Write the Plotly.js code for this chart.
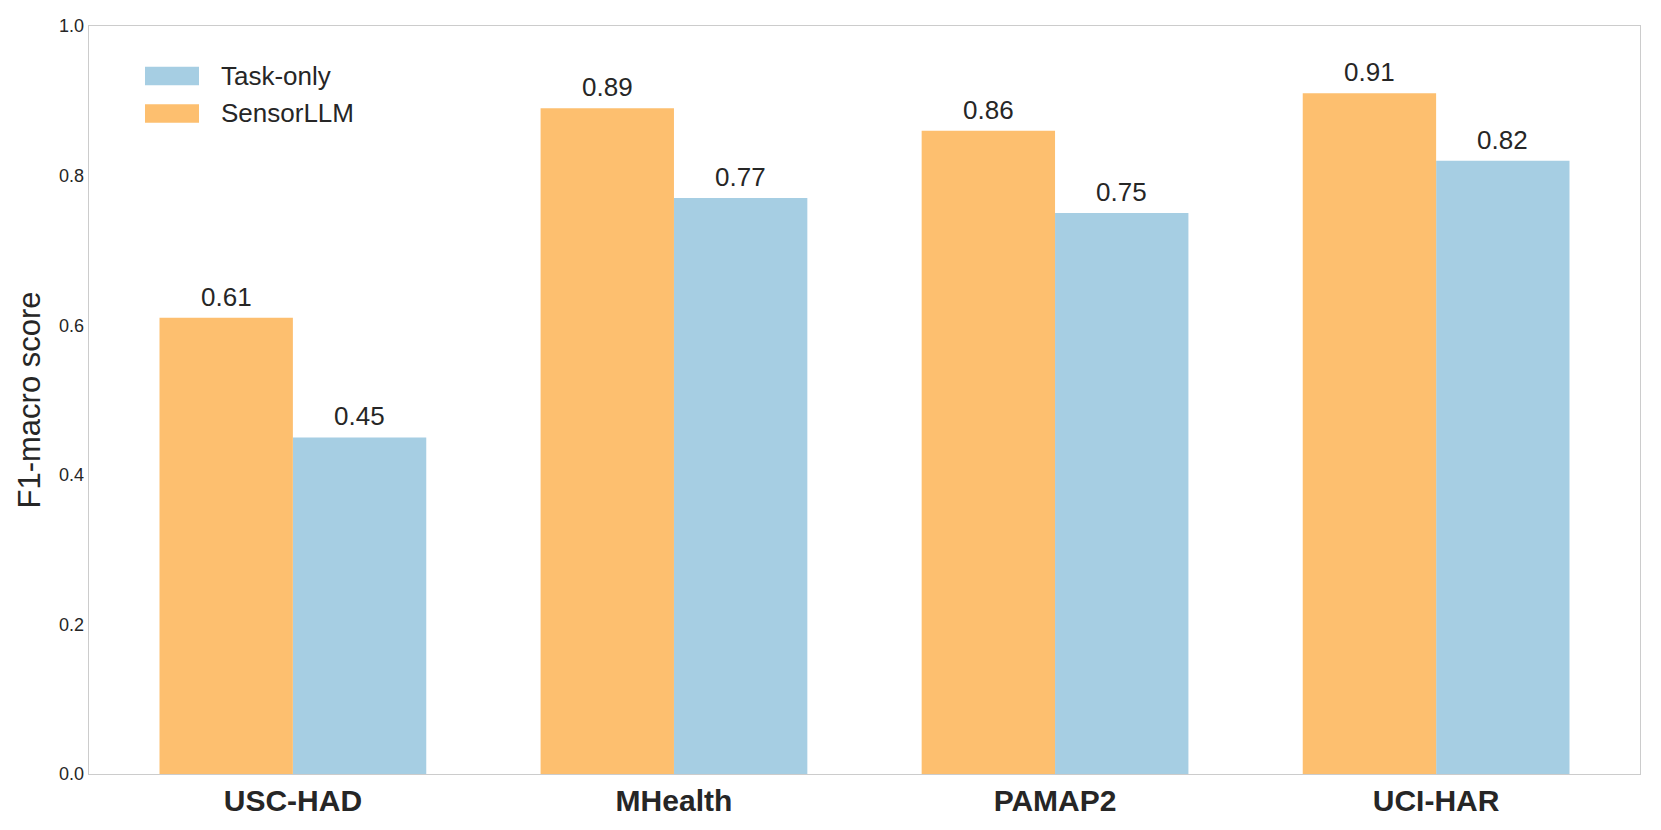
<!DOCTYPE html>
<html>
<head>
<meta charset="utf-8">
<script src="https://cdn.plot.ly/plotly-3.0.1.min.js"></script>
<style>
html,body{margin:0;padding:0;background:#fff;}
#chart{width:1661px;height:830px;}
</style>
</head>
<body>
<div id="chart"></div>
<script>
const categories = ["USC-HAD", "MHealth", "PAMAP2", "UCI-HAR"];
const sensorLLM = [0.61, 0.89, 0.86, 0.91];
const taskOnly = [0.45, 0.77, 0.75, 0.82];
const yTicks = [0.0, 0.2, 0.4, 0.6, 0.8, 1.0];
const seriesNames = ["Task-only", "SensorLLM"];
const seriesColors = ["#a6cee3", "#fdbf6f"];

const FONT = '"Liberation Sans", Arial, Helvetica, sans-serif';
const TXT = '#262626';
const BARW = 0.35;

const traces = [
  {
    type: 'bar', name: seriesNames[0], x: categories, y: taskOnly,
    offset: 0, width: BARW,
    marker: {color: seriesColors[0], line: {width: 0}},
    hoverinfo: 'x+y'
  },
  {
    type: 'bar', name: seriesNames[1], x: categories, y: sensorLLM,
    offset: -BARW, width: BARW,
    marker: {color: seriesColors[1], line: {width: 0}},
    hoverinfo: 'x+y'
  }
];

// Plot area geometry (pixels) used to place the hand-drawn legend
const M = {l: 89, r: 21, t: 26, b: 56};
const W = 1661, H = 830;
const PW = W - M.l - M.r, PH = H - M.t - M.b;
const px = v => (v - M.l) / PW;
const py = v => 1 - (v - M.t) / PH;

const annotations = [];
categories.forEach((c, i) => {
  annotations.push({
    x: i - BARW / 2, y: sensorLLM[i], xref: 'x', yref: 'y',
    text: sensorLLM[i].toFixed(2), showarrow: false,
    xanchor: 'center', yanchor: 'bottom', yshift: 4,
    font: {family: FONT, size: 26, color: TXT}
  });
  annotations.push({
    x: i + BARW / 2, y: taskOnly[i], xref: 'x', yref: 'y',
    text: taskOnly[i].toFixed(2), showarrow: false,
    xanchor: 'center', yanchor: 'bottom', yshift: 4,
    font: {family: FONT, size: 26, color: TXT}
  });
});

// Legend (swatch + label)
const shapes = [];
const legendRows = [76, 113.5];
seriesNames.forEach((n, k) => {
  const cy = legendRows[k];
  shapes.push({
    type: 'rect', xref: 'paper', yref: 'paper',
    x0: px(145), x1: px(199), y0: py(cy - 9.3), y1: py(cy + 9.3),
    fillcolor: seriesColors[k], line: {width: 0}, layer: 'above'
  });
  annotations.push({
    xref: 'paper', yref: 'paper', x: px(219), y: py(cy),
    xanchor: 'left', yanchor: 'middle', showarrow: false,
    text: n, font: {family: FONT, size: 26, color: TXT}
  });
});

const layout = {
  width: W, height: H,
  margin: M,
  paper_bgcolor: '#ffffff', plot_bgcolor: '#ffffff',
  font: {family: FONT, color: TXT},
  barmode: 'overlay',
  showlegend: false,
  annotations: annotations,
  shapes: shapes,
  xaxis: {
    type: 'category', range: [-0.535, 3.535],
    showgrid: false, zeroline: false,
    showline: true, mirror: true, linecolor: '#cccccc', linewidth: 1.3,
    ticks: '', tickfont: {family: FONT, size: 30, color: TXT, weight: 'bold'},
    fixedrange: true
  },
  yaxis: {
    range: [0, 1], tickvals: yTicks, ticktext: yTicks.map(v => v.toFixed(1)),
    showgrid: false, zeroline: false,
    showline: true, mirror: true, linecolor: '#cccccc', linewidth: 1.3,
    ticks: '', tickfont: {family: FONT, size: 18, color: TXT},
    title: {text: 'F1-macro score', font: {family: FONT, size: 31, color: TXT}, standoff: 9},
    automargin: false, fixedrange: true
  }
};

Plotly.newPlot('chart', traces, layout, {displayModeBar: false, staticPlot: true});
</script>
</body>
</html>
